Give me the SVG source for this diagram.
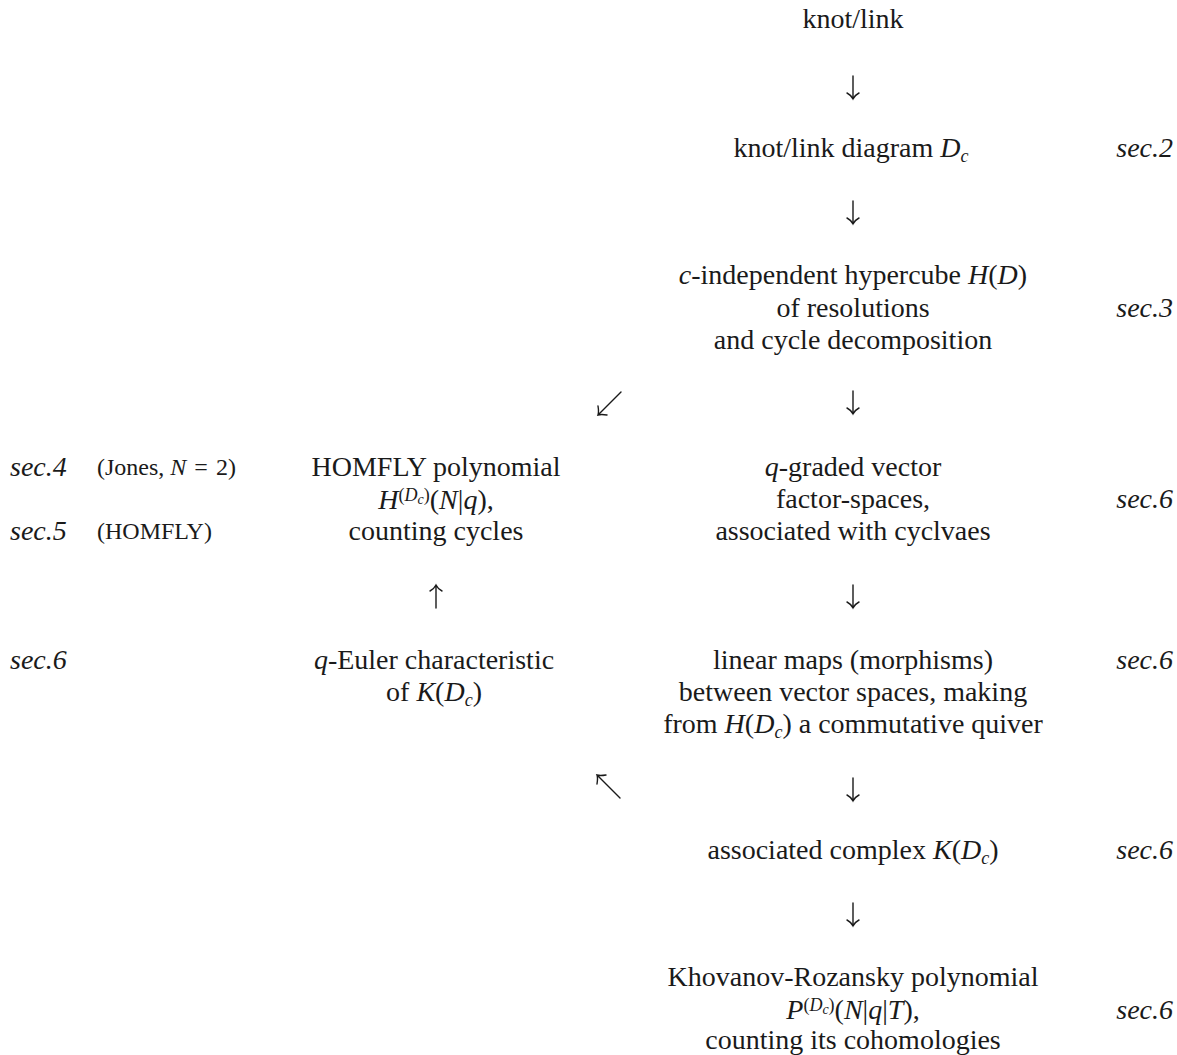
<svg xmlns="http://www.w3.org/2000/svg" width="1177" height="1055" viewBox="0 0 1177 1055">
<style>
text{font-family:"Liberation Serif","Times New Roman",serif;font-size:28px;fill:#1a1a1a}
.c{text-anchor:middle}
.r{text-anchor:end}
.i{font-style:italic}
.s{font-size:24px}
.sup{font-size:18px}
.sub{font-size:18px}
.ssub{font-size:14px}
.arr{fill:none;stroke:#1a1a1a;stroke-width:1.4;stroke-linecap:round}
</style>
<rect width="1177" height="1055" fill="#fff"/>
<g id="connectors">
<path class="arr" d="M853,76V99M847,93Q851,95 853,99Q855,95 859,93"/>
<path class="arr" d="M853,201V224M847,218Q851,220 853,224Q855,220 859,218"/>
<path class="arr" d="M853,391V414M847,408Q851,410 853,414Q855,410 859,408"/>
<path class="arr" d="M621,392L598,415M598,406Q599,412 598,415Q601,414 607,415"/>
<path class="arr" d="M853,585V608M847,602Q851,604 853,608Q855,604 859,602"/>
<path class="arr" d="M436,608V585M430,591Q434,589 436,585Q438,589 442,591"/>
<path class="arr" d="M853,778V801M847,795Q851,797 853,801Q855,797 859,795"/>
<path class="arr" d="M620,798L597,775M597,784Q598,778 597,775Q600,776 606,775"/>
<path class="arr" d="M853,903V926M847,920Q851,922 853,926Q855,922 859,920"/>
</g>
<g id="n-knot"><text class="c" x="853" y="28">knot/link</text></g>
<g id="n-diagram"><text class="c" x="851" y="157">knot/link diagram <tspan class="i">D</tspan><tspan class="sub i" dy="5">c</tspan></text></g>
<g id="l-sec2"><text class="r i" x="1173" y="157">sec.2</text></g>
<g id="n-hypercube">
<text class="c" x="853" y="284"><tspan class="i">c</tspan>-independent hypercube <tspan class="i">H</tspan>(<tspan class="i">D</tspan>)</text>
<text class="c" x="853" y="317">of resolutions</text>
<text class="c" x="853" y="349">and cycle decomposition</text>
</g>
<g id="l-sec3"><text class="r i" x="1173" y="317">sec.3</text></g>
<g id="n-homfly">
<text class="c" x="436" y="476">HOMFLY polynomial</text>
<text class="c" x="436" y="509"><tspan class="i">H</tspan><tspan class="sup" dy="-8">(</tspan><tspan class="sup i">D</tspan><tspan class="ssub i" dy="3">c</tspan><tspan class="sup" dy="-3">)</tspan><tspan dy="8">(</tspan><tspan class="i">N</tspan>|<tspan class="i">q</tspan>),</text>
<text class="c" x="436" y="540">counting cycles</text>
</g>
<g id="l-sec45">
<text class="i" x="10" y="476">sec.4</text>
<text class="s" x="97" y="475">(Jones, <tspan class="i">N</tspan> <tspan dx="2">=</tspan> <tspan dx="2">2)</tspan></text>
<text class="i" x="10" y="540">sec.5</text>
<text class="s" x="97" y="539">(HOMFLY)</text>
</g>
<g id="n-graded">
<text class="c" x="853" y="476"><tspan class="i">q</tspan>-graded vector</text>
<text class="c" x="853" y="508">factor-spaces,</text>
<text class="c" x="853" y="540">associated with cyclvaes</text>
</g>
<g id="l-sec6a"><text class="r i" x="1173" y="508">sec.6</text></g>
<g id="n-euler">
<text class="c" x="434" y="669"><tspan class="i">q</tspan>-Euler characteristic</text>
<text class="c" x="434" y="701">of <tspan class="i">K</tspan>(<tspan class="i">D</tspan><tspan class="sub i" dy="5">c</tspan><tspan dy="-5">)</tspan></text>
</g>
<g id="l-sec6b"><text class="i" x="10" y="669">sec.6</text></g>
<g id="n-maps">
<text class="c" x="853" y="669">linear maps (morphisms)</text>
<text class="c" x="853" y="701">between vector spaces, making</text>
<text class="c" x="853" y="733">from <tspan class="i">H</tspan>(<tspan class="i">D</tspan><tspan class="sub i" dy="5">c</tspan><tspan dy="-5">)</tspan> a commutative quiver</text>
</g>
<g id="l-sec6c"><text class="r i" x="1173" y="669">sec.6</text></g>
<g id="n-complex"><text class="c" x="853" y="859">associated complex <tspan class="i">K</tspan>(<tspan class="i">D</tspan><tspan class="sub i" dy="5">c</tspan><tspan dy="-5">)</tspan></text></g>
<g id="l-sec6d"><text class="r i" x="1173" y="859">sec.6</text></g>
<g id="n-kr">
<text class="c" x="853" y="986">Khovanov-Rozansky polynomial</text>
<text class="c" x="853" y="1019"><tspan class="i">P</tspan><tspan class="sup" dy="-8">(</tspan><tspan class="sup i">D</tspan><tspan class="ssub i" dy="3">c</tspan><tspan class="sup" dy="-3">)</tspan><tspan dy="8">(</tspan><tspan class="i">N</tspan>|<tspan class="i">q</tspan>|<tspan class="i">T</tspan>),</text>
<text class="c" x="853" y="1049">counting its cohomologies</text>
</g>
<g id="l-sec6e"><text class="r i" x="1173" y="1019">sec.6</text></g>
</svg>
